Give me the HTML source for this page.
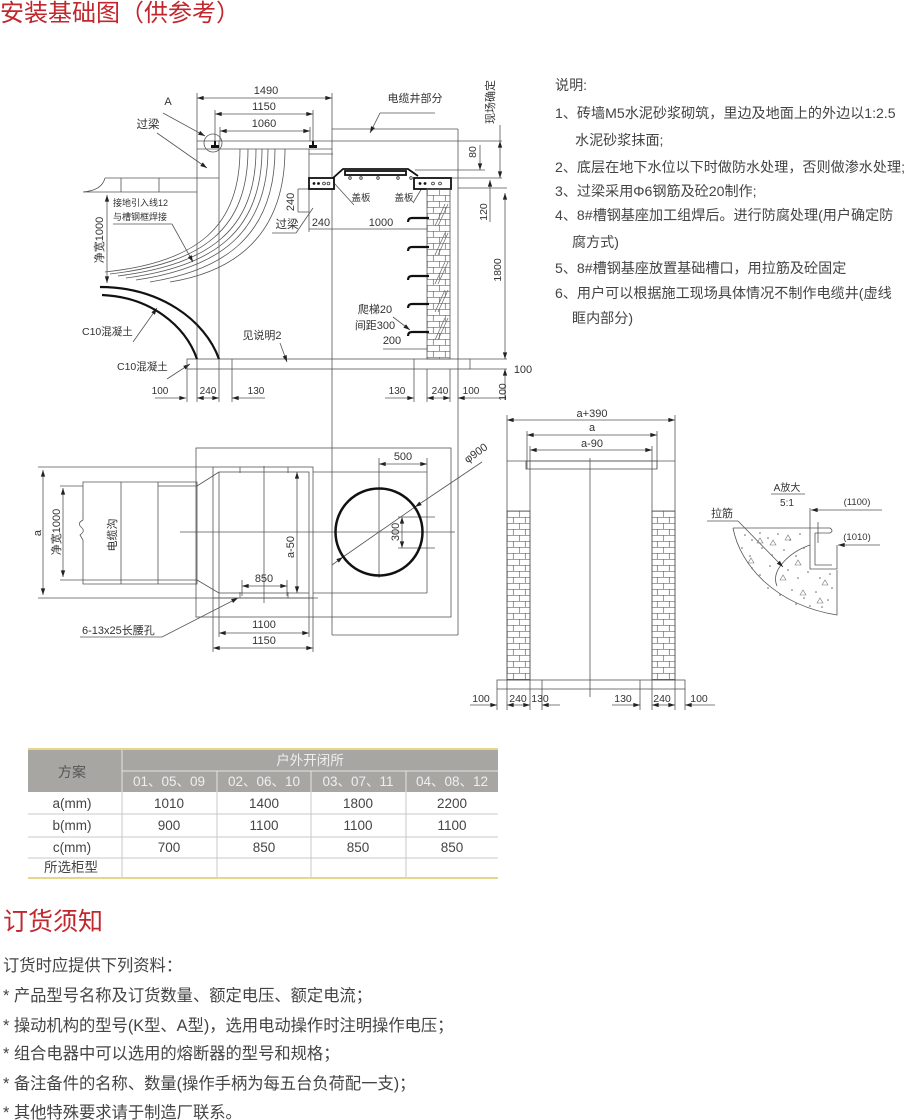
<!DOCTYPE html>
<html><head><meta charset="utf-8"><style>
html,body{margin:0;padding:0;background:#fff;}
svg{display:block;font-family:"Liberation Sans","Noto Sans CJK SC",sans-serif;}
</style></head><body>
<svg width="910" height="1120" viewBox="0 0 910 1120" xmlns="http://www.w3.org/2000/svg">
<defs>
<marker id="ar" viewBox="0 0 8 6" refX="8" refY="3" markerWidth="7" markerHeight="5" orient="auto-start-reverse" markerUnits="userSpaceOnUse"><path d="M0,0.4L8,3L0,5.6z" fill="#222"/></marker>
<pattern id="bk1" width="12" height="12" patternUnits="userSpaceOnUse" x="427" y="189"><path d="M0,0.3H12M0,6.3H12M0.3,0V6M6.3,6V12" stroke="#666" stroke-width="0.7" fill="none"/></pattern>
<pattern id="bk2" width="12" height="12" patternUnits="userSpaceOnUse" x="507" y="511"><path d="M0,0.3H12M0,6.3H12M0.3,0V6M6.3,6V12" stroke="#666" stroke-width="0.7" fill="none"/></pattern>
</defs>

<!-- Title -->
<text x="0" y="21" font-size="24" fill="#c1272d">安装基础图（供参考）</text>

<g stroke="#555" stroke-width="0.8" fill="none">
<!-- ===== Elevation ===== -->
<line x1="197" y1="98" x2="332" y2="98" marker-start="url(#ar)" marker-end="url(#ar)"/>
<line x1="215" y1="114" x2="313" y2="114" marker-start="url(#ar)" marker-end="url(#ar)"/>
<line x1="220" y1="131" x2="310" y2="131" marker-start="url(#ar)" marker-end="url(#ar)"/>
<line x1="197" y1="93" x2="197" y2="402"/>
<line x1="332" y1="93" x2="332" y2="635"/>
<line x1="215" y1="110" x2="215" y2="145"/>
<line x1="313" y1="110" x2="313" y2="145"/>
<line x1="220" y1="127" x2="220" y2="141"/>
<line x1="310" y1="127" x2="310" y2="141"/>
<line x1="163" y1="113" x2="205" y2="136" marker-end="url(#ar)"/>
<circle cx="213" cy="143" r="9"/>
<line x1="157" y1="133" x2="207" y2="168" marker-end="url(#ar)"/>
<line x1="197" y1="141" x2="502" y2="141"/>
<line x1="197" y1="149" x2="332" y2="149"/>
<line x1="219" y1="141" x2="219" y2="402"/>
<!-- left ground slab -->
<line x1="105" y1="178" x2="219" y2="178"/>
<path d="M105,178 C103,186 96,191 83,192 L197,192"/>
<line x1="121" y1="178" x2="121" y2="192"/>
<line x1="159" y1="178" x2="159" y2="192"/>
<!-- cables -->
<path d="M240,149 C240,225 200,262 105,272"/>
<path d="M248,149 C248,228 205,263 110,274"/>
<path d="M256,149 C256,230 210,264 118,276"/>
<path d="M262,149 C262,232 214,266 126,278"/>
<path d="M268,149 C268,234 218,268 136,280"/>
<path d="M275,149 C275,236 224,270 150,282"/>
<path d="M285,149 C285,238 232,272 170,282"/>
<!-- labels leaders -->
<line x1="113" y1="224" x2="172" y2="224"/>
<line x1="172" y1="224" x2="193" y2="262" marker-end="url(#ar)"/>
<line x1="107" y1="195" x2="107" y2="283" marker-start="url(#ar)" marker-end="url(#ar)"/>
<line x1="133" y1="342" x2="157" y2="308" marker-end="url(#ar)"/>
<line x1="167" y1="379" x2="190" y2="364" marker-end="url(#ar)"/>
<!-- base slab -->
<rect x="187" y="359" width="283" height="10"/>
<line x1="470" y1="359" x2="507" y2="359"/>
<line x1="470" y1="369" x2="507" y2="369"/>
<line x1="187" y1="369" x2="187" y2="402"/>
<line x1="232" y1="359" x2="232" y2="402"/>
<line x1="414" y1="359" x2="414" y2="402"/>
<line x1="427" y1="369" x2="427" y2="402"/>
<line x1="450" y1="369" x2="450" y2="402"/>
<line x1="155" y1="398" x2="186" y2="398" marker-end="url(#ar)"/>
<line x1="197" y1="398" x2="219" y2="398" marker-start="url(#ar)" marker-end="url(#ar)"/>
<line x1="265" y1="398" x2="232" y2="398" marker-end="url(#ar)"/>
<line x1="385" y1="398" x2="414" y2="398" marker-end="url(#ar)"/>
<line x1="427" y1="398" x2="450" y2="398" marker-start="url(#ar)" marker-end="url(#ar)"/>
<line x1="505" y1="398" x2="458" y2="398" marker-end="url(#ar)"/>
<!-- right dims -->
<line x1="505" y1="193" x2="505" y2="359" marker-start="url(#ar)" marker-end="url(#ar)"/>
<line x1="505" y1="400" x2="505" y2="369" marker-end="url(#ar)"/>
<line x1="480" y1="145" x2="480" y2="170" marker-end="url(#ar)"/>
<line x1="500" y1="125" x2="500" y2="141"/>
<line x1="500" y1="141" x2="500" y2="178" marker-start="url(#ar)" marker-end="url(#ar)"/>
<line x1="415" y1="170" x2="485" y2="170"/>
<line x1="450" y1="178" x2="502" y2="178"/>
<line x1="490" y1="222" x2="490" y2="180" marker-end="url(#ar)"/>
<line x1="458" y1="188" x2="507" y2="188"/>
<!-- cable well -->
<line x1="332" y1="129" x2="458" y2="129"/>
<line x1="458" y1="129" x2="458" y2="635"/>
<line x1="380" y1="113" x2="435" y2="113"/>
<line x1="380" y1="113" x2="370" y2="133" marker-end="url(#ar)"/>
<line x1="309" y1="149" x2="309" y2="232"/>
<line x1="309" y1="154" x2="333" y2="154"/>
<!-- 240 dims -->
<line x1="298" y1="189" x2="298" y2="212"/>
<line x1="298" y1="189" x2="309" y2="189"/>
<line x1="298" y1="212" x2="309" y2="212"/>
<line x1="309" y1="229" x2="427" y2="229"/>
<line x1="272" y1="233" x2="296" y2="233"/>
<line x1="296" y1="233" x2="313" y2="208"/>
<line x1="354" y1="205" x2="334" y2="183"/>
<line x1="413" y1="203" x2="425" y2="183"/>
<!-- ladder notes -->
<line x1="383" y1="349" x2="427" y2="349"/>
<line x1="393" y1="317" x2="410" y2="330" marker-end="url(#ar)"/>
<line x1="280" y1="343" x2="287" y2="362" marker-end="url(#ar)"/>
</g>

<!-- channel boxes & cover -->
<g stroke="#111" stroke-width="1.8" fill="#fff">
<rect x="309" y="178" width="25" height="11"/>
<rect x="414" y="178" width="37" height="11"/>
<path d="M333,178 L343,169 L408,169 L418,176" fill="none"/>
<rect x="345" y="171" width="61" height="4" fill="none"/>
</g>
<g fill="#111">
<circle cx="314" cy="183.5" r="1.4"/><circle cx="318.5" cy="183.5" r="1.4"/>
<circle cx="420" cy="183.5" r="1.4"/><circle cx="425" cy="183.5" r="1.4"/>
<rect x="211" y="145" width="8" height="3"/><rect x="214" y="141" width="2" height="4"/>
<rect x="309" y="145" width="8" height="3"/><rect x="312" y="141" width="2" height="4"/>
</g>
<g fill="none" stroke="#333" stroke-width="0.8">
<circle cx="324" cy="183.5" r="1.4"/><circle cx="328.5" cy="183.5" r="1.4"/>
<circle cx="433" cy="183.5" r="1.4"/><circle cx="440" cy="183.5" r="1.4"/>
<circle cx="350" cy="178" r="1.3"/><circle cx="361" cy="178" r="1.3"/><circle cx="378" cy="178" r="1.3"/><circle cx="398" cy="178" r="1.3"/><circle cx="411" cy="178" r="1.3"/>
</g>

<!-- C10 arcs -->
<g stroke="#111" stroke-width="2.2" fill="none">
<path d="M100,287 C160,287 205,320 219,359"/>
<path d="M102,295 C150,297 185,325 197,359"/>
</g>

<!-- brick wall elevation -->
<rect x="427" y="189" width="23" height="170" fill="url(#bk1)" stroke="#555" stroke-width="0.8"/>
<g stroke="#111" stroke-width="2.2" fill="none">
<path d="M408,222 Q408,218 412,218 L429,218"/>
<path d="M408,251 Q408,247 412,247 L429,247"/>
<path d="M408,280 Q408,276 412,276 L429,276"/>
<path d="M408,308 Q408,304 412,304 L429,304"/>
<path d="M408,336 Q408,332 412,332 L429,332"/>
</g>
<g stroke="#666" stroke-width="0.7">
<line x1="435" y1="226" x2="445" y2="204"/><line x1="438" y1="226" x2="448" y2="204"/>
<line x1="435" y1="255" x2="445" y2="233"/><line x1="438" y1="255" x2="448" y2="233"/>
<line x1="435" y1="284" x2="445" y2="262"/><line x1="438" y1="284" x2="448" y2="262"/>
<line x1="435" y1="312" x2="445" y2="290"/><line x1="438" y1="312" x2="448" y2="290"/>
<line x1="435" y1="340" x2="445" y2="318"/><line x1="438" y1="340" x2="448" y2="318"/>
</g>

<!-- elevation texts -->
<g fill="#333" font-size="11" text-anchor="middle">
<text x="266" y="94">1490</text>
<text x="264" y="110">1150</text>
<text x="264" y="127">1060</text>
<text x="168" y="105">A</text>
<text x="148" y="128" font-size="11.5">过梁</text>
<text x="415" y="102">电缆井部分</text>
<text x="361" y="201" font-size="9.5">盖板</text>
<text x="404" y="201" font-size="9.5">盖板</text>
<text x="381" y="226">1000</text>
<text x="321" y="226">240</text>
<text x="287" y="228" font-size="11.5">过梁</text>
<text x="262" y="339">见说明2</text>
<text x="375" y="313">爬梯20</text>
<text x="375" y="329">间距300</text>
<text x="392" y="344">200</text>
<text x="160" y="394" font-size="10">100</text>
<text x="208" y="394" font-size="10">240</text>
<text x="256" y="394" font-size="10">130</text>
<text x="397" y="394" font-size="10">130</text>
<text x="440" y="394" font-size="10">240</text>
<text x="471" y="394" font-size="10">100</text>
<text x="523" y="373">100</text>
<text transform="translate(494,102) rotate(-90)" font-size="11">现场确定</text>
<text transform="translate(476,152) rotate(-90)" font-size="10.5">80</text>
<text transform="translate(487,212) rotate(-90)" font-size="10.5">120</text>
<text transform="translate(501,270) rotate(-90)" font-size="10.5">1800</text>
<text transform="translate(506,392) rotate(-90)" font-size="10.5">100</text>
<text transform="translate(294,202) rotate(-90)" font-size="11">240</text>
<text transform="translate(103,240) rotate(-90)" font-size="11">净宽1000</text>
</g>
<g fill="#333" font-size="9">
<text x="113" y="206">接地引入线12</text>
<text x="113" y="220">与槽钢框焊接</text>
</g>
<g fill="#333" font-size="10.5">
<text x="82" y="335">C10混凝土</text>
<text x="117" y="370">C10混凝土</text>
</g>

<!-- ===== Plan view ===== -->
<g stroke="#555" stroke-width="0.8" fill="none">
<rect x="196" y="448" width="255" height="169"/>
<line x1="332" y1="635" x2="458" y2="635"/>
<line x1="313" y1="472" x2="427" y2="472"/>
<line x1="313" y1="593" x2="427" y2="593"/>
<line x1="427" y1="458" x2="427" y2="593"/>
<rect x="213" y="467" width="100" height="131"/>
<rect x="219" y="472" width="90" height="121"/>
<path d="M83,482 L83,520 Q77,523 81,527 Q86,531 80,535 L83,540 L83,584 L197,584 L197,482 Z"/>
<line x1="121" y1="482" x2="121" y2="584"/>
<line x1="158" y1="482" x2="158" y2="584"/>
<line x1="158" y1="486" x2="197" y2="486"/>
<line x1="197" y1="486" x2="219" y2="472"/>
<line x1="197" y1="580" x2="219" y2="593"/>
<line x1="43" y1="470" x2="43" y2="595" marker-start="url(#ar)" marker-end="url(#ar)"/>
<line x1="38" y1="467" x2="213" y2="467"/>
<line x1="38" y1="598" x2="318" y2="598"/>
<line x1="63" y1="488" x2="63" y2="577" marker-start="url(#ar)" marker-end="url(#ar)"/>
<line x1="60" y1="486" x2="83" y2="486"/>
<line x1="60" y1="580" x2="197" y2="580"/>
<line x1="264" y1="466" x2="264" y2="603"/>
<line x1="180" y1="532" x2="455" y2="532"/>
<line x1="240" y1="467" x2="240" y2="473"/><line x1="288" y1="467" x2="288" y2="473"/>
<line x1="240" y1="592" x2="240" y2="598"/><line x1="288" y1="592" x2="288" y2="598"/>
<line x1="297" y1="472" x2="297" y2="593" marker-start="url(#ar)" marker-end="url(#ar)"/>
<line x1="242" y1="586" x2="287" y2="586" marker-start="url(#ar)" marker-end="url(#ar)"/>
<line x1="242" y1="580" x2="242" y2="596"/>
<line x1="287" y1="580" x2="287" y2="596"/>
<line x1="80" y1="637" x2="162" y2="637"/>
<line x1="162" y1="637" x2="238" y2="598" marker-end="url(#ar)"/>
<line x1="219" y1="633" x2="309" y2="633" marker-start="url(#ar)" marker-end="url(#ar)"/>
<line x1="213" y1="648" x2="313" y2="648" marker-start="url(#ar)" marker-end="url(#ar)"/>
<line x1="213" y1="598" x2="213" y2="652"/>
<line x1="313" y1="598" x2="313" y2="652"/>
<line x1="219" y1="593" x2="219" y2="637"/>
<line x1="309" y1="593" x2="309" y2="637"/>
<line x1="379" y1="464" x2="427" y2="464" marker-start="url(#ar)" marker-end="url(#ar)"/>
<line x1="379" y1="458" x2="379" y2="578"/>
<line x1="332" y1="565" x2="343" y2="557" marker-end="url(#ar)"/>
<line x1="343" y1="557" x2="415" y2="507"/>
<line x1="482" y1="462" x2="415" y2="507" marker-end="url(#ar)"/>
<line x1="402" y1="517" x2="402" y2="548" marker-start="url(#ar)" marker-end="url(#ar)"/>
<line x1="398" y1="517" x2="435" y2="517"/>
<line x1="398" y1="548" x2="435" y2="548"/>
</g>
<circle cx="379" cy="532" r="43.5" fill="none" stroke="#111" stroke-width="2.5"/>
<g fill="#333" font-size="11" text-anchor="middle">
<text transform="translate(41,533) rotate(-90)">a</text>
<text transform="translate(60,532) rotate(-90)">净宽1000</text>
<text transform="translate(116,535) rotate(-90)">电缆沟</text>
<text transform="translate(294,547) rotate(-90)">a-50</text>
<text transform="translate(399,532) rotate(-90)">300</text>
<text x="264" y="582">850</text>
<text x="264" y="628">1100</text>
<text x="264" y="644">1150</text>
<text x="403" y="460">500</text>
<text transform="translate(478,456) rotate(-35)">φ900</text>
<text x="82" y="634" text-anchor="start">6-13x25长腰孔</text>
</g>

<!-- ===== Right elevation ===== -->
<g stroke="#555" stroke-width="0.8" fill="none">
<line x1="507" y1="420" x2="675" y2="420" marker-start="url(#ar)" marker-end="url(#ar)"/>
<line x1="527" y1="435" x2="657" y2="435" marker-start="url(#ar)" marker-end="url(#ar)"/>
<line x1="530" y1="450" x2="652" y2="450" marker-start="url(#ar)" marker-end="url(#ar)"/>
<line x1="507" y1="415" x2="507" y2="710"/>
<line x1="675" y1="415" x2="675" y2="710"/>
<line x1="527" y1="431" x2="527" y2="469"/>
<line x1="657" y1="431" x2="657" y2="469"/>
<line x1="530" y1="446" x2="530" y2="710"/>
<line x1="652" y1="446" x2="652" y2="710"/>
<line x1="507" y1="461" x2="675" y2="461"/>
<rect x="526" y="461" width="131" height="8"/>
<line x1="590" y1="458" x2="590" y2="697"/>
<rect x="497" y="680" width="188" height="9"/>
<line x1="497" y1="689" x2="497" y2="710"/>
<line x1="685" y1="689" x2="685" y2="710"/>
<line x1="542" y1="680" x2="542" y2="710"/>
<line x1="640" y1="680" x2="640" y2="710"/>
<line x1="470" y1="705" x2="497" y2="705" marker-end="url(#ar)"/>
<line x1="507" y1="705" x2="530" y2="705" marker-start="url(#ar)" marker-end="url(#ar)"/>
<line x1="560" y1="705" x2="542" y2="705" marker-end="url(#ar)"/>
<line x1="612" y1="705" x2="640" y2="705" marker-end="url(#ar)"/>
<line x1="652" y1="705" x2="675" y2="705" marker-start="url(#ar)" marker-end="url(#ar)"/>
<line x1="715" y1="705" x2="685" y2="705" marker-end="url(#ar)"/>
</g>
<rect x="507" y="511" width="23" height="169" fill="url(#bk2)" stroke="#555" stroke-width="0.8"/>
<rect x="652" y="511" width="23" height="169" fill="url(#bk2)" stroke="#555" stroke-width="0.8"/>
<g fill="#333" font-size="11" text-anchor="middle">
<text x="592" y="417">a+390</text>
<text x="592" y="431">a</text>
<text x="592" y="447">a-90</text>
<text x="481" y="702" font-size="10.5">100</text>
<text x="518" y="702" font-size="10.5">240</text>
<text x="540" y="702" font-size="10.5">130</text>
<text x="623" y="702" font-size="10.5">130</text>
<text x="662" y="702" font-size="10.5">240</text>
<text x="699" y="702" font-size="10.5">100</text>
</g>

<!-- ===== A detail ===== -->
<g stroke="#555" stroke-width="0.8" fill="none">
<path d="M733,528 L810,528 M733,528 C740,565 775,605 837,615 L837,570"/>
<path d="M810,508 L810,569 L837,569 L837,545"/>
<path d="M815,533 L815,565 L832,565"/>
<path d="M810,528 L830,528 Q834,531 830,533 L815,533"/>
<line x1="818" y1="522" x2="818" y2="543"/>
<path d="M777,586 C770,570 790,552 810,545"/>
<line x1="771" y1="494" x2="805" y2="494"/>
<line x1="707" y1="521" x2="738" y2="521"/>
<line x1="738" y1="521" x2="783" y2="567" marker-end="url(#ar)"/>
<line x1="882" y1="510" x2="811" y2="510" marker-end="url(#ar)"/>
<line x1="880" y1="545" x2="838" y2="545" marker-end="url(#ar)"/>
</g>
<g fill="#666">
<circle cx="745" cy="535" r="0.8"/><circle cx="752" cy="540" r="0.8"/><circle cx="760" cy="533" r="0.8"/><circle cx="768" cy="538" r="0.8"/><circle cx="778" cy="534" r="0.8"/><circle cx="790" cy="540" r="0.8"/><circle cx="800" cy="534" r="0.8"/>
<circle cx="742" cy="548" r="0.8"/><circle cx="750" cy="556" r="0.8"/><circle cx="762" cy="548" r="0.8"/><circle cx="772" cy="555" r="0.8"/><circle cx="784" cy="550" r="0.8"/><circle cx="796" cy="556" r="0.8"/><circle cx="804" cy="548" r="0.8"/>
<circle cx="752" cy="568" r="0.8"/><circle cx="760" cy="575" r="0.8"/><circle cx="770" cy="566" r="0.8"/><circle cx="788" cy="570" r="0.8"/><circle cx="798" cy="578" r="0.8"/><circle cx="808" cy="572" r="0.8"/><circle cx="820" cy="578" r="0.8"/><circle cx="830" cy="574" r="0.8"/>
<circle cx="768" cy="588" r="0.8"/><circle cx="780" cy="595" r="0.8"/><circle cx="792" cy="590" r="0.8"/><circle cx="804" cy="598" r="0.8"/><circle cx="816" cy="592" r="0.8"/><circle cx="828" cy="600" r="0.8"/><circle cx="822" cy="607" r="0.8"/><circle cx="810" cy="606" r="0.8"/><circle cx="796" cy="604" r="0.8"/><circle cx="832" cy="588" r="0.8"/>
</g>
<g fill="none" stroke="#777" stroke-width="0.6">
<path d="M757,543 l3,-5 l3,5z"/><path d="M785,540 l3,-5 l3,5z"/><path d="M748,563 l3,-5 l3,5z"/><path d="M795,565 l3,-5 l3,5z"/><path d="M780,580 l3,-5 l3,5z"/><path d="M822,585 l3,-5 l3,5z"/><path d="M800,595 l3,-5 l3,5z"/><path d="M817,603 l3,-5 l3,5z"/><path d="M770,545 l3,-5 l3,5z"/>
</g>
<g fill="#333" font-size="10" text-anchor="middle">
<text x="787" y="491">A放大</text>
<text x="787" y="506">5:1</text>
<text x="857" y="505" font-size="9.5">(1100)</text>
<text x="857" y="540" font-size="9.5">(1010)</text>
<text x="722" y="517" font-size="11">拉筋</text>
</g>

<!-- ===== Notes ===== -->
<g fill="#444" font-size="14.1">
<text x="555" y="90">说明:</text>
<text x="555" y="118">1、砖墙M5水泥砂浆砌筑，里边及地面上的外边以1:2.5</text>
<text x="575" y="145">水泥砂浆抹面;</text>
<text x="555" y="172">2、底层在地下水位以下时做防水处理，否则做渗水处理;</text>
<text x="555" y="196">3、过梁采用Φ6钢筋及砼20制作;</text>
<text x="555" y="220">4、8#槽钢基座加工组焊后。进行防腐处理(用户确定防</text>
<text x="572" y="247">腐方式)</text>
<text x="555" y="273">5、8#槽钢基座放置基础槽口，用拉筋及砼固定</text>
<text x="555" y="298">6、用户可以根据施工现场具体情况不制作电缆井(虚线</text>
<text x="572" y="323">眶内部分)</text>
</g>

<!-- ===== Table ===== -->
<rect x="28" y="750" width="470" height="42" fill="#a7a6a2"/>
<g stroke="#e4e4e2" stroke-width="1">
<line x1="122" y1="750" x2="122" y2="792"/>
<line x1="122" y1="771" x2="498" y2="771"/>
<line x1="217" y1="771" x2="217" y2="792"/>
<line x1="311" y1="771" x2="311" y2="792"/>
<line x1="406" y1="771" x2="406" y2="792"/>
</g>
<g stroke="#c8c8c8" stroke-width="1">
<line x1="28" y1="814" x2="498" y2="814"/>
<line x1="28" y1="837" x2="498" y2="837"/>
<line x1="28" y1="858" x2="498" y2="858"/>
<line x1="122" y1="792" x2="122" y2="877"/>
<line x1="217" y1="792" x2="217" y2="877"/>
<line x1="311" y1="792" x2="311" y2="877"/>
<line x1="406" y1="792" x2="406" y2="877"/>
</g>
<line x1="28" y1="749" x2="498" y2="749" stroke="#e6d68c" stroke-width="2"/>
<line x1="28" y1="878" x2="498" y2="878" stroke="#e6d68c" stroke-width="2"/>
<g font-size="13.5" text-anchor="middle">
<text x="72" y="777" fill="#555" font-size="14">方案</text>
<text x="310" y="765" fill="#efefef">户外开闭所</text>
<text x="169" y="786" fill="#efefef">01、05、09</text>
<text x="264" y="786" fill="#efefef">02、06、10</text>
<text x="358" y="786" fill="#efefef">03、07、11</text>
<text x="452" y="786" fill="#efefef">04、08、12</text>
</g>
<g font-size="13.5" text-anchor="middle" fill="#444">
<text x="72" y="808">a(mm)</text><text x="169" y="808">1010</text><text x="264" y="808">1400</text><text x="358" y="808">1800</text><text x="452" y="808">2200</text>
<text x="72" y="830">b(mm)</text><text x="169" y="830">900</text><text x="264" y="830">1100</text><text x="358" y="830">1100</text><text x="452" y="830">1100</text>
<text x="72" y="852">c(mm)</text><text x="169" y="852">700</text><text x="264" y="852">850</text><text x="358" y="852">850</text><text x="452" y="852">850</text>
<text x="71" y="872">所选柜型</text>
</g>

<!-- ===== Ordering ===== -->
<text x="3" y="930" font-size="25" fill="#c1272d">订货须知</text>
<g fill="#444" font-size="16.3">
<text x="3" y="971">订货时应提供下列资料：</text>
<text x="3" y="1001">* 产品型号名称及订货数量、额定电压、额定电流；</text>
<text x="3" y="1031">* 操动机构的型号(K型、A型)，选用电动操作时注明操作电压；</text>
<text x="3" y="1059">* 组合电器中可以选用的熔断器的型号和规格；</text>
<text x="3" y="1089">* 备注备件的名称、数量(操作手柄为每五台负荷配一支)；</text>
<text x="3" y="1118">* 其他特殊要求请于制造厂联系。</text>
</g>
</svg>
</body></html>
